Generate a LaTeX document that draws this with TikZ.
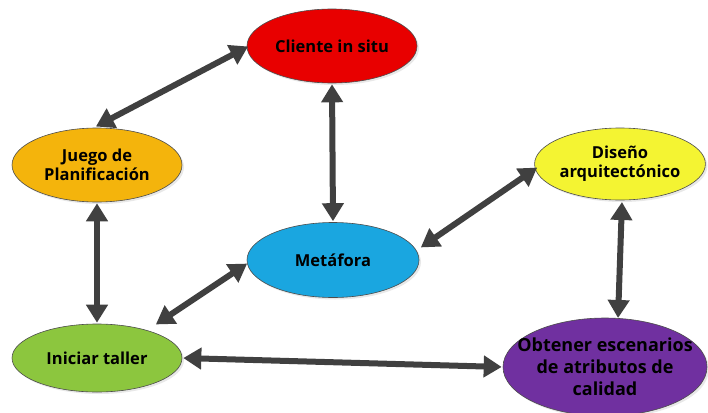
\documentclass[tikz,border=0pt]{standalone}
\usepackage{fontspec}
\setmainfont{Open Sans}
\usetikzlibrary{arrows.meta,shapes.geometric,shadows}
\definecolor{arrowgray}{HTML}{404040}
\definecolor{cred}{HTML}{E80000}
\definecolor{corange}{HTML}{F4B40C}
\definecolor{cyellow}{HTML}{F4F432}
\definecolor{cblue}{HTML}{1AA6E0}
\definecolor{cgreen}{HTML}{8CC63E}
\definecolor{cpurple}{HTML}{7030A0}
\tikzset{
  bubble/.style={ellipse, draw=black!70, line width=0.6pt, inner sep=0pt,
    font=\bfseries\fontsize{16.5}{19}\selectfont, text=black, align=center,
    drop shadow={opacity=0.18, shadow xshift=2pt, shadow yshift=-2pt}},
  link/.style={draw=arrowgray, line width=6pt,
    {Triangle[length=18pt,width=21pt]}-{Triangle[length=18pt,width=21pt]}, shorten >=1pt, shorten <=1pt}
}
\begin{document}
\begin{tikzpicture}[x=1pt,y=-1pt]
\useasboundingbox (0,0) rectangle (708,412);
\node[bubble, fill=cred, minimum width=170pt, minimum height=74pt] (cli) at (332,46) {Cliente in situ};
\node[bubble, fill=corange, minimum width=170pt, minimum height=74pt] (jue) at (97,165) {Juego de\\Planificación};
\node[bubble, fill=cyellow, minimum width=166pt, minimum height=72pt] (dis) at (620,164) {Diseño\\arquitectónico};
\node[bubble, fill=cblue, minimum width=172pt, minimum height=75pt] (met) at (333,260) {Metáfora};
\node[bubble, fill=cgreen, minimum width=170pt, minimum height=68pt] (ini) at (97,358) {Iniciar taller};
% the text of this bubble runs past its outline, so the size is fixed by the minimum
\node[bubble, fill=cpurple, minimum width=204pt, minimum height=98pt,
  inner xsep=-40pt, inner ysep=-25pt,
  font=\bfseries\fontsize{18}{22}\selectfont] (obt) at (605,367) {Obtener escenarios\\de atributos de\\calidad};

\coordinate (cliL) at (249,46);
\coordinate (jueT) at (95,127);
\draw[link] (cliL) -- (jueT);
\draw[link] (cli.south) -- (met.north);
\draw[link] (jue.south) -- (ini.north);
\coordinate (iniNE) at (155,325);
\coordinate (metW) at (248,263);
\draw[link] (iniNE) -- (metW);
\coordinate (metE) at (420,248);
\coordinate (disW) at (538,167);
\draw[link] (metE) -- (disW);
\coordinate (disS) at (622,201);
\coordinate (obtN) at (618,319);
\draw[link] (disS) -- (obtN);
\draw[link] (ini.east) -- (obt.west);
\end{tikzpicture}
\end{document}
